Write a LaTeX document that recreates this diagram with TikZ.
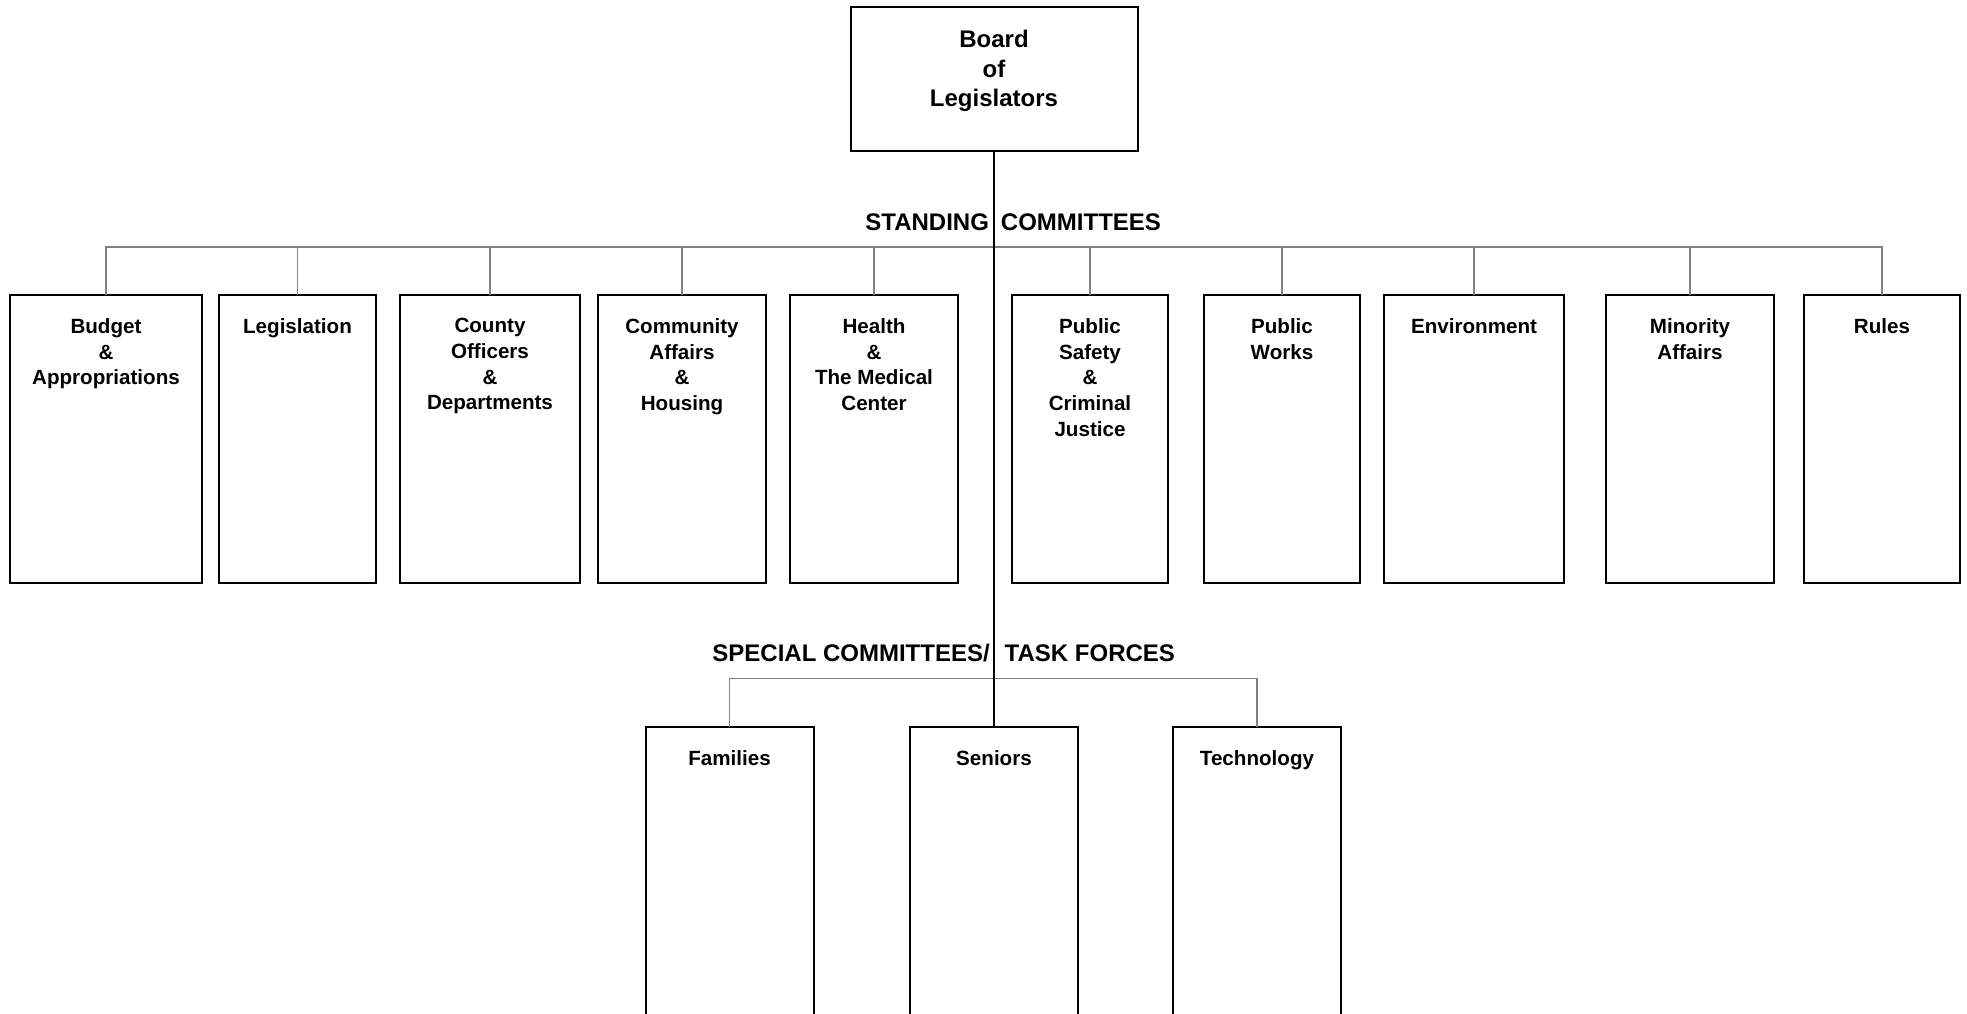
\documentclass[tikz,border=0pt]{standalone}
\usepackage{fontspec}
\setmainfont{Liberation Sans}
\begin{document}
\begin{tikzpicture}[x=0.5pt,y=-0.5pt,
  box/.style={draw=black,line width=1pt,inner sep=0pt,outer sep=0pt,minimum height=144pt},
  spbox/.style={draw=black,line width=1pt,inner sep=0pt,outer sep=0pt,minimum width=84pt,minimum height=156.5pt},
  boxtext/.style={anchor=north,inner sep=0pt,align=center,font=\fontsize{10.3}{12.85}\selectfont\bfseries},
  head/.style={inner sep=0pt,font=\fontsize{12}{14.75}\selectfont\bfseries},
  bus/.style={draw=black!50,line width=0.6pt},
  mainline/.style={draw=black,line width=0.6pt}]
\useasboundingbox (0,0) rectangle (1967,1013);
\clip (0,0) rectangle (1967,1013);

% top box
\node[box,minimum width=143.5pt,minimum height=72pt] (board) at (994,79) {};
\node[head,anchor=north,align=center] (tboard) at (994,30) {Board\\of\\Legislators};

% headings
\node[head,anchor=base west] (hstand) at (865,230) {STANDING\hspace{6pt}COMMITTEES};
\node[head,anchor=base west] (hspec) at (712,661.7) {SPECIAL COMMITTEES/\hspace{7.5pt}TASK FORCES};

% standing committee boxes
\node[box,minimum width=96pt] (b1) at (106,439) {};
\node[box,minimum width=78.5pt] (b2) at (297.5,439) {};
\node[box,minimum width=90pt] (b3) at (490,439) {};
\node[box,minimum width=84pt] (b4) at (682,439) {};
\node[box,minimum width=84pt] (b5) at (874,439) {};
\node[box,minimum width=78pt] (b6) at (1090,439) {};
\node[box,minimum width=78pt] (b7) at (1282,439) {};
\node[box,minimum width=90pt] (b8) at (1474,439) {};
\node[box,minimum width=84pt] (b9) at (1690,439) {};
\node[box,minimum width=78pt] (b10) at (1882,439) {};

\node[boxtext] (t1) at (106,318) {Budget\\\&\\Appropriations};
\node[boxtext] (t2) at (297.5,318) {Legislation};
\node[boxtext] (t3) at (490,318) {County\\Officers\\\&\\Departments};
\node[boxtext] (t4) at (682,318) {Community\\Affairs\\\&\\Housing};
\node[boxtext] (t5) at (874,318) {Health\\\&\\The Medical\\Center};
\node[boxtext] (t6) at (1090,318) {Public\\Safety\\\&\\Criminal\\Justice};
\node[boxtext] (t7) at (1282,318) {Public\\Works};
\node[boxtext] (t8) at (1474,318) {Environment};
\node[boxtext] (t9) at (1690,318) {Minority\\Affairs};
\node[boxtext] (t10) at (1882,318) {Rules};

% special committee boxes
\node[spbox] (fam) at (729.5,883.5) {};
\node[spbox] (sen) at (994,883.5) {};
\node[spbox] (tech) at (1257,883.5) {};
\node[boxtext] (tfam) at (729.5,750) {Families};
\node[boxtext] (tsen) at (994,750) {Seniors};
\node[boxtext] (ttech) at (1257,750) {Technology};

% bus coordinates
\coordinate (sbus) at (0,247);
\coordinate (pbus) at (0,678.7);

% standing bus
\draw[bus] (b1.north) |- (b10.north |- sbus) -- (b10.north);
\foreach \n in {b2,b3,b4,b5,b6,b7,b8,b9}
  \draw[bus] (\n.north) -- (\n.north |- sbus);

% special bus
\draw[bus] (fam.north) |- (tech.north |- pbus) -- (tech.north);

% main vertical line
\draw[mainline] (board.south) -- (sen.north);
\end{tikzpicture}
\end{document}
